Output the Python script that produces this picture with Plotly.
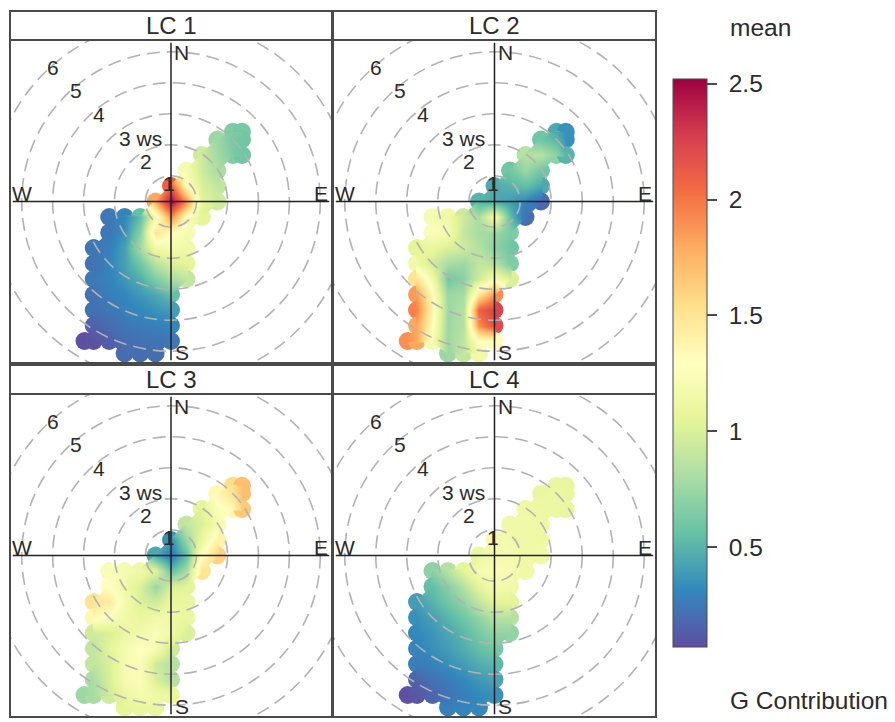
import plotly.graph_objects as go

N = None
panel_names = ["LC 1", "LC 2", "LC 3", "LC 4"]
ws_ticks = [1, 2, 3, 4, 5, 6]
cbar_ticks = [0.5, 1, 1.5, 2, 2.5]
colors = ["#5E4FA2", "#3288BD", "#66C2A5", "#ABDDA4", "#E6F598", "#FFFFBF",
          "#FEE08B", "#FDAE61", "#F46D43", "#D53E4F", "#9E0142"]
x_grid = [-2.8, -2.5, -2, -1.5, -1, -.5, 0, .5, 1, 1.5, 2, 2.3]
y_grid = [2.25, 2, 1.5, 1, .5, 0, -.5, -1, -1.5, -2, -2.5, -3, -3.5, -4, -4.5, -4.9]

lc1 = [
 [N, N, N, N, N, N, N, N, N, N, .65, .62],
 [N, N, N, N, N, N, N, N, N, .75, .62, .6],
 [N, N, N, N, N, N, N, N, .95, .78, .65, .6],
 [N, N, N, N, N, N, N, 1.2, .95, .8, N, N],
 [N, N, N, N, N, N, 2.1, 1.3, 1.0, .9, N, N],
 [N, N, N, N, N, 1.8, 2.5, 1.9, 1.05, .95, N, N],
 [N, N, .25, .3, .55, 1.2, 1.9, 1.3, 1.05, N, N, N],
 [N, N, .24, .35, .7, 1.5, 1.3, 1.2, N, N, N, N],
 [N, .24, .28, .42, .8, 1.15, 1.2, 1.15, N, N, N, N],
 [N, .22, .3, .42, .6, .85, 1.0, 1.05, N, N, N, N],
 [N, .25, .3, .38, .48, .65, .8, .9, N, N, N, N],
 [N, .22, .28, .32, .38, .45, .55, N, N, N, N, N],
 [N, .22, .25, .28, .32, .36, .4, N, N, N, N, N],
 [N, .15, .2, .24, .27, .28, .3, N, N, N, N, N],
 [.07, .08, .14, .2, .22, .23, .24, N, N, N, N, N],
 [N, N, N, .2, .2, .2, N, N, N, N, N, N],
]
lc2 = [
 [N, N, N, N, N, N, N, N, N, N, .45, .35],
 [N, N, N, N, N, N, N, N, N, .6, .5, .35],
 [N, N, N, N, N, N, N, N, .85, .85, .7, .5],
 [N, N, N, N, N, N, N, .6, .75, .6, N, N],
 [N, N, N, N, N, N, .45, .5, .55, .45, N, N],
 [N, N, N, N, N, .5, .45, .4, .3, .18, N, N],
 [N, N, 1.2, 1.15, .95, .8, 1.2, .55, .2, N, N, N],
 [N, N, 1.25, 1.2, .9, .8, .75, .65, N, N, N, N],
 [N, 1.05, 1.1, 1.0, .95, .85, .7, .6, N, N, N, N],
 [N, 1.15, .95, .8, .75, .9, .85, .65, N, N, N, N],
 [N, 1.5, 1.15, .6, .7, .95, 1.2, 1.0, N, N, N, N],
 [N, 1.85, 1.3, .75, .8, 1.5, 1.9, N, N, N, N, N],
 [N, 1.95, 1.35, .75, .85, 2.1, 2.25, N, N, N, N, N],
 [N, 1.8, 1.3, .75, .85, 1.9, 2.2, N, N, N, N, N],
 [1.9, 1.8, 1.2, .75, .9, 1.3, 1.3, N, N, N, N, N],
 [N, N, N, .75, .9, 1.15, N, N, N, N, N, N],
]
lc3 = [
 [N, N, N, N, N, N, N, N, N, N, 1.55, 1.7],
 [N, N, N, N, N, N, N, N, N, 1.35, 1.5, 1.7],
 [N, N, N, N, N, N, N, N, 1.05, 1.25, 1.35, 1.65],
 [N, N, N, N, N, N, N, .9, 1.0, 1.2, N, N],
 [N, N, N, N, N, N, .35, .75, 1.1, 1.4, N, N],
 [N, N, N, N, N, .45, .25, .55, 1.3, 1.6, N, N],
 [N, N, 1.25, 1.2, 1.15, 1.05, .55, .8, 1.5, N, N, N],
 [N, N, 1.3, 1.15, 1.0, .75, 1.0, 1.05, N, N, N, N],
 [N, 1.5, 1.45, 1.2, 1.0, .95, 1.1, 1.1, N, N, N, N],
 [N, 1.35, 1.25, 1.15, 1.1, 1.15, 1.15, 1.1, N, N, N, N],
 [N, .95, 1.0, 1.1, 1.15, 1.25, 1.15, 1.0, N, N, N, N],
 [N, .9, 1.05, 1.2, 1.3, 1.2, .95, N, N, N, N, N],
 [N, .9, 1.0, 1.2, 1.25, .95, .85, N, N, N, N, N],
 [N, .8, 1.0, 1.2, 1.25, 1.0, .85, N, N, N, N, N],
 [.75, .8, .95, 1.1, 1.2, 1.15, 1.1, N, N, N, N, N],
 [N, N, N, 1.05, 1.1, 1.1, N, N, N, N, N, N],
]
lc4 = [
 [N, N, N, N, N, N, N, N, N, N, 1.1, 1.1],
 [N, N, N, N, N, N, N, N, N, 1.1, 1.12, 1.1],
 [N, N, N, N, N, N, N, N, 1.13, 1.13, 1.12, 1.1],
 [N, N, N, N, N, N, N, 1.15, 1.15, 1.13, N, N],
 [N, N, N, N, N, N, 1.2, 1.17, 1.15, 1.13, N, N],
 [N, N, N, N, N, 1.1, 1.2, 1.2, 1.15, 1.15, N, N],
 [N, N, .7, .85, 1.05, 1.2, 1.25, 1.2, 1.15, N, N, N],
 [N, N, .55, .68, .85, 1.05, 1.2, 1.15, N, N, N, N],
 [N, .4, .5, .6, .72, .9, 1.05, 1.05, N, N, N, N],
 [N, .35, .42, .5, .6, .72, .85, .85, N, N, N, N],
 [N, .32, .37, .44, .52, .62, .72, .72, N, N, N, N],
 [N, .3, .35, .4, .47, .55, .62, N, N, N, N, N],
 [N, .27, .3, .35, .4, .47, .52, N, N, N, N, N],
 [N, .17, .22, .27, .32, .38, .43, N, N, N, N, N],
 [.08, .1, .17, .23, .28, .32, .35, N, N, N, N, N],
 [N, N, N, .28, .3, .32, N, N, N, N, N, N],
]
panels = [lc1, lc2, lc3, lc4]

OFF = 8                     # the page's own body margin
W, H = 895 - OFF, 722 - OFF
RANGE = 161.5 / 31          # half panel width, in ws-spaced units
WS_OFFSET = 0.17            # circles start slightly inside the ws value
DARK, INK, GREY = "#4a4a4a", "#2b2b2b", "#b2b2b2"
FONT = "Liberation Sans"
boxes = [(10, 332, 40, 363), (333, 656, 40, 363), (10, 332, 394, 717), (333, 656, 394, 717)]
headers = [(10, 332, 11, 40), (333, 656, 11, 40), (10, 332, 365, 394), (333, 656, 365, 394)]


def fx(p):
    return (p - OFF) / W


def fy(p):
    return 1 - (p - OFF) / H


fig = go.Figure()
layout = dict(width=W, height=H, margin=dict(l=0, r=0, t=0, b=0),
              paper_bgcolor="white", plot_bgcolor="white", showlegend=False, font=dict(family=FONT, color=INK),
              coloraxis=dict(cmin=0.07, cmax=2.52,
                             colorscale=[[i / 10, c] for i, c in enumerate(colors)],
                             colorbar=dict(x=fx(673), xanchor="left", y=fy(647), yanchor="bottom",
                                           len=568, lenmode="pixels", thickness=34, thicknessmode="pixels",
                                           xpad=0, ypad=0, outlinecolor=DARK, outlinewidth=1,
                                           tickvals=cbar_ticks,
                                           ticktext=["\u00a00.5", "\u00a01", "\u00a01.5", "\u00a02", "\u00a02.5"],
                                           ticks="outside", ticklen=10, tickcolor=DARK, tickwidth=1.5,
                                           tickfont=dict(size=24.5, family=FONT, color=INK))))
shapes, annos = [], []


def axis(domain, **kw):
    return dict(domain=domain, range=[-RANGE, RANGE], visible=False, fixedrange=True, **kw)


def text(x, y, s, size=21, xref="paper", yref="paper", xanchor="center"):
    annos.append(dict(x=x, y=y, text=s, xref=xref, yref=yref, showarrow=False, xanchor=xanchor, yanchor="middle",
                      font=dict(size=size, family=FONT, color=INK)))


for i, (name, z, box, head) in enumerate(zip(panel_names, panels, boxes, headers)):
    base, over = 2 * i + 1, 2 * i + 2
    bx, by = f"x{base}", f"y{base}"
    ox, oy = f"x{over}", f"y{over}"
    dx = [fx(box[0]), fx(box[1])]
    dy = [fy(box[3]), fy(box[2])]
    layout[f"xaxis{base}"] = axis(dx, anchor=by)
    layout[f"yaxis{base}"] = axis(dy, anchor=bx)
    layout[f"xaxis{over}"] = axis(dx, anchor=oy, overlaying=bx)
    layout[f"yaxis{over}"] = axis(dy, anchor=ox, overlaying=by)

    px, py, pc = [], [], []
    for yv, row in zip(y_grid, z):
        for xv, v in zip(x_grid, row):
            if v is not None:
                px.append(xv); py.append(yv); pc.append(v)
    fig.add_trace(go.Scatter(x=px, y=py, mode="markers", xaxis=bx, yaxis=by, hoverinfo="skip",
                             marker=dict(size=18, color=pc, coloraxis="coloraxis", line=dict(width=0))))
    fig.add_trace(go.Contour(x=x_grid, y=y_grid, z=z, xaxis=ox, yaxis=oy, coloraxis="coloraxis",
                             connectgaps=False, hoverinfo="skip", line=dict(width=0),
                             contours=dict(coloring="heatmap", showlines=False)))

    for ws in ws_ticks:
        r = ws - WS_OFFSET
        shapes.append(dict(type="circle", xref=ox, yref=oy, x0=-r, x1=r, y0=-r, y1=r, layer="above",
                           line=dict(color=GREY, width=1.6, dash="13px,7px")))
    lim = 5.12
    shapes.append(dict(type="line", xref=ox, yref=oy, x0=-lim, x1=lim, y0=0, y1=0, layer="above",
                       line=dict(color="#222222", width=1.5)))
    shapes.append(dict(type="line", xref=ox, yref=oy, x0=0, x1=0, y0=-lim, y1=lim, layer="above",
                       line=dict(color="#222222", width=1.5)))
    shapes.append(dict(type="rect", xref="paper", yref="paper", x0=fx(box[0]), x1=fx(box[1]),
                       y0=fy(box[3]), y1=fy(box[2]), layer="above", line=dict(color=DARK, width=2)))
    shapes.append(dict(type="rect", xref="paper", yref="paper", x0=fx(head[0]), x1=fx(head[1]),
                       y0=fy(head[3]), y1=fy(head[2]), layer="above", line=dict(color=DARK, width=2)))
    text(fx((head[0] + head[1]) / 2), fy((head[2] + head[3]) / 2), name, size=24)

    for s, xv, yv in [("N", .34, 4.8), ("E", 4.86, .27), ("S", .34, -4.86), ("W", -4.82, .27),
                      ("6", -3.83, 4.33), ("5", -3.06, 3.58), ("4", -2.32, 2.8), ("3 ws", -1.0, 2.02),
                      ("2", -.82, 1.29), ("1", -.06, .59)]:
        text(xv, yv, s, xref=ox, yref=oy)

text(fx(728), fy(27), "mean", size=24.5, xanchor="left")
text(fx(728), fy(700), "G Contribution", size=24.5, xanchor="left")

layout["shapes"] = shapes
layout["annotations"] = annos
fig.update_layout(**layout)
fig.write_html("out.html")
